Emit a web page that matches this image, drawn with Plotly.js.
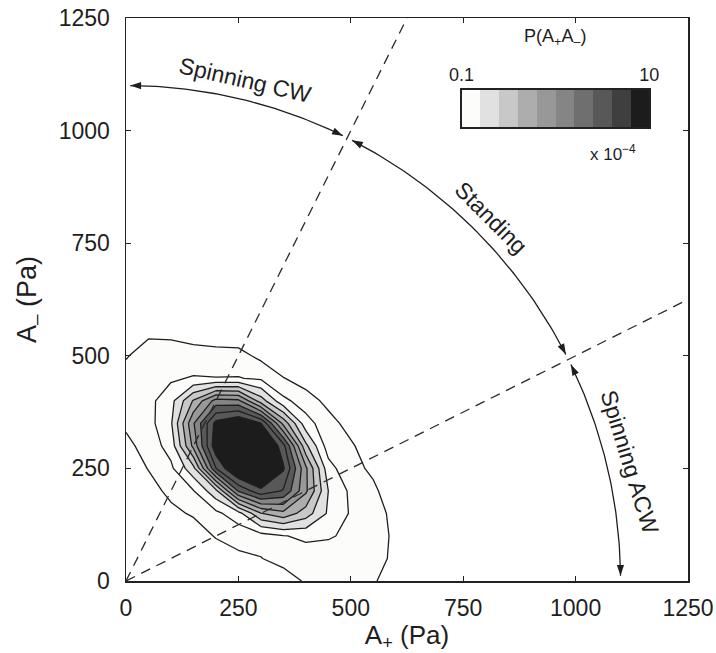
<!DOCTYPE html>
<html><head><meta charset="utf-8">
<script src="https://cdn.plot.ly/plotly-3.0.1.min.js"></script>
<style>html,body{margin:0;padding:0;background:#fff;}#chart{width:716px;height:653px;}</style>
</head><body><div id="chart"></div>
<script>
// ---- data ----
// grid of amplitudes (Pa)
const gridX = [0,50,100,150,200,250,300,350,400,450,500,550,600];
const gridY = [0,50,100,150,200,250,300,350,400,450,500,550];
// log10 of joint PDF P(A+,A-) in units of 1e-4 (rows follow gridY)
const logP = [
 [-1.89,-1.74,-1.59,-1.45,-1.32,-1.20,-1.09,-1.17,-0.96,-0.94,-0.95,-0.99,-1.05],
 [-1.59,-1.59,-1.44,-1.30,-1.16,-1.04,-1.01,-0.88,-0.90,-0.90,-0.89,-0.95,-1.03],
 [-1.46,-1.33,-1.29,-1.14,-0.98,-0.93,-0.88,-0.81,-0.76,-0.78,-0.84,-0.93,-1.03],
 [-1.34,-1.20,-1.06,-0.97,-0.85,-0.68,-0.21,-0.06,-0.30,-0.63,-0.82,-0.93,-1.05],
 [-1.23,-1.09,-0.94,-0.81,-0.46, 0.42, 0.75, 0.58, 0.04,-0.60,-0.84,-0.97,-1.10],
 [-1.14,-0.99,-0.84,-0.46, 0.59, 1.11, 1.19, 0.83, 0.04,-0.72,-0.95,-1.03,-1.18],
 [-1.06,-0.91,-0.72, 0.06, 0.95, 1.43, 1.22, 0.67,-0.35,-0.90,-0.97,-1.13,-1.28],
 [-0.96,-0.87,-0.63, 0.18, 0.87, 1.03, 0.81,-0.06,-0.72,-0.92,-1.08,-1.24,-1.40],
 [-0.94,-0.86,-0.67,-0.18, 0.28, 0.25,-0.30,-0.75,-0.90,-1.06,-1.21,-1.37,-1.53],
 [-0.95,-0.89,-0.83,-0.78,-0.79,-0.79,-0.83,-0.99,-1.10,-1.20,-1.36,-1.51,-1.67],
 [-1.01,-0.94,-0.88,-0.95,-0.98,-0.93,-1.05,-1.22,-1.42,-1.63,-1.50,-1.66,-1.81],
 [-1.08,-1.02,-1.05,-1.05,-1.03,-1.13,-1.27,-1.44,-1.64,-1.80,-1.75,-1.90,-2.00]
];
// contour levels: log10(0.1) ... log10(6.31), 0.2 decade apart
const levelStart = -1.0, levelEnd = 0.8, levelStep = 0.2;
// colour bar end labels
const cbLabels = ['0.1','10'];
const cbBands = [1,2,3,4,5,6,7,8,9,10];
const axisTicks = [0,250,500,750,1000,1250];
// regime boundary lines A- = 2 A+  and  A- = A+/2
const dashAx = [0,625],  dashAy = [0,1250];
const dashBx = [0,1250], dashBy = [0,625];
// regime labels
const regimes = ['Spinning CW','Standing','Spinning ACW'];

// ---- styling ----
const shades = ['#ffffff','#fcfcfa','#e1e1e1','#c8c8c8','#adadad','#989898','#858585','#6f6f6f','#585858','#3f3f3f','#1c1c1c'];
const ink = '#1e1e1e';
const bounds = [0,0.1,0.2,0.3,0.4,0.5,0.6,0.7,0.8,0.9,0.98,1];
const contourScale = [];
for (let k=0;k<shades.length;k++){ contourScale.push([bounds[k],shades[k]]); contourScale.push([bounds[k+1],shades[k]]); }
const barScale = [];
for (let k=1;k<shades.length;k++){ barScale.push([(k-1)/10,shades[k]]); barScale.push([k/10,shades[k]]); }

// arcs (radius and angular extents in degrees)
const arcR = 1100;
const arcSpans = [[89.5,64.0],[62.8,27.2],[25.9,0.6]];
const d2r = Math.PI/180;
const arcX = [], arcY = [];
arcSpans.forEach(([a0,a1])=>{
  const n = 60;
  for(let i=0;i<=n;i++){ const a=(a0+(a1-a0)*i/n)*d2r; arcX.push(arcR*Math.cos(a)); arcY.push(arcR*Math.sin(a)); }
  arcX.push(null); arcY.push(null);
});

// arrow heads (filled triangles) at each arc end
const headLen = 24, headHalf = 8;
const shapes = [];
arcSpans.forEach(([a0,a1])=>{
  [[a0, a1>a0 ? -1 : 1],[a1, a1>a0 ? 1 : -1]].forEach(([tip,s])=>{
    const th = tip*d2r;
    const px = arcR*Math.cos(th), py = arcR*Math.sin(th);
    const tx = -Math.sin(th)*s, ty = Math.cos(th)*s;      // travel direction
    const nx = Math.cos(th), ny = Math.sin(th);            // radial
    const bx = px - headLen*tx, by = py - headLen*ty;
    shapes.push({type:'path', xref:'x', yref:'y', layer:'above',
      path:`M${px},${py} L${bx+headHalf*nx},${by+headHalf*ny} L${bx-headHalf*nx},${by-headHalf*ny} Z`,
      fillcolor:ink, line:{width:0}});
  });
});

const traces = [
  {type:'contour', x:gridX, y:gridY, z:logP, autocontour:false,
   contours:{start:levelStart, end:levelEnd, size:levelStep, coloring:'fill', showlines:true},
   colorscale:contourScale, showscale:false, line:{color:ink, width:1.3, smoothing:0}, hoverinfo:'skip'},
  {type:'scatter', mode:'lines', x:dashAx, y:dashAy, line:{color:'#2a2a2a', width:1.3, dash:'10px,7px'}, hoverinfo:'skip'},
  {type:'scatter', mode:'lines', x:dashBx, y:dashBy, line:{color:'#2a2a2a', width:1.3, dash:'10px,7px'}, hoverinfo:'skip'},
  {type:'scatter', mode:'lines', x:arcX, y:arcY, line:{color:ink, width:1.3}, hoverinfo:'skip'},
  {type:'heatmap', x:cbBands, y:[0], z:[cbBands], xaxis:'x2', yaxis:'y2', zmin:0.5, zmax:10.5,
   colorscale:barScale, showscale:false, hoverinfo:'skip'}
];

const labelFont = {size:23, color:ink};
const annotations = [
  {xref:'x', yref:'y', x:265, y:1113, xanchor:'center', yanchor:'middle', text:regimes[0], textangle:13, showarrow:false, font:labelFont},
  {xref:'x', yref:'y', x:813, y:807, xanchor:'center', yanchor:'middle', text:regimes[1], textangle:45, showarrow:false, font:labelFont},
  {xref:'x', yref:'y', x:1121, y:265, xanchor:'center', yanchor:'middle', text:regimes[2], textangle:73, showarrow:false, font:labelFont},
  {xref:'paper', yref:'paper', x:0.763, y:0.966, xanchor:'center', yanchor:'middle', text:'P(A<sub>+</sub>A<sub>–</sub>)', showarrow:false, font:{size:18, color:ink}},
  {xref:'paper', yref:'paper', x:0.867, y:0.760, xanchor:'center', yanchor:'middle', text:'x 10<sup>−4</sup>', showarrow:false, font:{size:17, color:ink}}
];

const axBase = {range:[0,1250], tickvals:axisTicks, ticks:'inside', ticklen:5, tickwidth:1.2, tickcolor:'#222',
  showline:true, linecolor:'#222', linewidth:1.5, mirror:'allticks', showgrid:false, zeroline:false,
  tickfont:{size:23, color:ink}, fixedrange:true, automargin:false};

const layout = {
  width:716, height:653, margin:{l:126, r:28, t:18, b:72},
  paper_bgcolor:'#fff', plot_bgcolor:'#fff', showlegend:false,
  font:{family:'Liberation Sans, Arial, sans-serif', color:ink},
  xaxis:Object.assign({}, axBase, {ticklabelstandoff:6, title:{text:'A<sub>+</sub> (Pa)', font:{size:26, color:ink}, standoff:0}}),
  yaxis:Object.assign({}, axBase, {ticklabelstandoff:10, title:{text:'A<sub>–</sub> (Pa)', font:{size:27, color:ink}, standoff:14}}),
  xaxis2:{domain:[0.597,0.931], anchor:'y2', range:[0.5,10.5], side:'top', tickvals:[0.5,10.5], ticktext:cbLabels,
    ticks:'', showline:true, mirror:true, linecolor:'#222', linewidth:1.5, showgrid:false, zeroline:false,
    tickfont:{size:18, color:ink}, ticklabelstandoff:0, fixedrange:true},
  yaxis2:{domain:[0.806,0.873], anchor:'x2', range:[-0.5,0.5], showticklabels:false, ticks:'', showline:true, mirror:true,
    linecolor:'#222', linewidth:1.5, showgrid:false, zeroline:false, fixedrange:true},
  shapes:shapes,
  annotations:annotations
};
Plotly.newPlot('chart', traces, layout, {staticPlot:true, displayModeBar:false});
</script></body></html>
